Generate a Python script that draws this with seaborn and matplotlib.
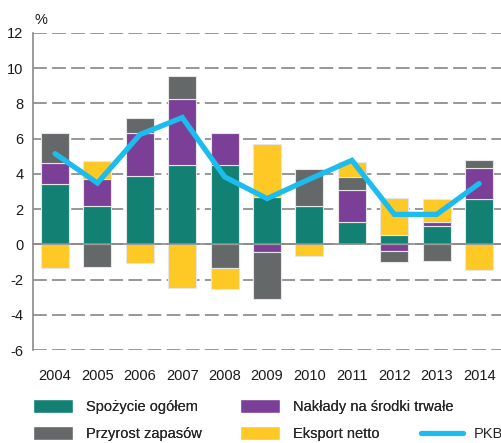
import numpy as np
import pandas as pd
import matplotlib
matplotlib.use("Agg")
import matplotlib.pyplot as plt
import seaborn as sns
from matplotlib.patches import Patch
from matplotlib.lines import Line2D

years = ["2004", "2005", "2006", "2007", "2008", "2009", "2010", "2011", "2012", "2013", "2014"]
spozycie = [3.45, 2.16, 3.88, 4.49, 4.53, 2.69, 2.18, 1.29, 0.51, 1.04, 2.60]
naklady = [1.19, 1.53, 2.47, 3.79, 1.82, -0.44, 0.0, 1.81, -0.36, 0.21, 1.74]
przyrost = [1.71, -1.31, 0.85, 1.28, -1.35, -2.69, 2.08, 0.73, -0.62, -0.95, 0.43]
eksport = [-1.35, 1.04, -1.06, -2.48, -1.21, 2.99, -0.66, 0.87, 2.14, 1.34, -1.44]
pkb = [5.15, 3.48, 6.23, 7.20, 3.83, 2.60, 3.70, 4.77, 1.70, 1.70, 3.45]

series_names = ["Spożycie ogółem", "Nakłady na środki trwałe", "Przyrost zapasów", "Eksport netto"]
series_vals = [spozycie, naklady, przyrost, eksport]
colors = ["#138074", "#7c3f97", "#646868", "#fec925"]
line_color = "#1cbdee"
y_ticks = [-6, -4, -2, 0, 2, 4, 6, 8, 10, 12]

sns.set_style("white")
plt.rcParams["font.family"] = ["Liberation Sans", "DejaVu Sans"]

fig = plt.figure(figsize=(5.02, 4.43), dpi=100)
ax = fig.add_axes([33 / 502, 1 - 350 / 443, 469 / 502, 317 / 443])

pos_bottom = np.zeros(len(years))
neg_bottom = np.zeros(len(years))
for name, vals, col in zip(series_names, series_vals, colors):
    v = np.array(vals, dtype=float)
    bottom = np.where(v >= 0, pos_bottom, neg_bottom)
    df = pd.DataFrame({"rok": years, "v": v})
    sns.barplot(data=df, x="rok", y="v", order=years, color=col, bottom=bottom,
                width=0.66, edgecolor="#e6e6e6", linewidth=0.8, saturation=1,
                errorbar=None, ax=ax, zorder=3)
    pos_bottom = pos_bottom + np.where(v >= 0, v, 0)
    neg_bottom = neg_bottom + np.where(v < 0, v, 0)

sns.lineplot(x=np.arange(len(years)), y=pkb, color=line_color, linewidth=3.8,
             ax=ax, zorder=5, solid_capstyle="round", solid_joinstyle="miter")

ax.set_xlim(-0.52, 10.54)
ax.set_ylim(-6, 12)
ax.set_yticks(y_ticks)
ax.set_yticklabels([str(t) for t in y_ticks], fontsize=10.5, color="#1a1a1a")
ax.yaxis.grid(True, linestyle=(0, (9, 3.5)), color="#7a7a7a", linewidth=1.1, zorder=0)
ax.set_axisbelow(True)
ax.tick_params(axis="y", length=3, color="#7a7a7a", pad=4)
ax.set_xlabel("")
ax.set_ylabel("")

for s in ["top", "right"]:
    ax.spines[s].set_visible(False)
ax.spines["left"].set_color("#8a8a8a")
ax.spines["left"].set_linewidth(1.2)
ax.spines["bottom"].set_position(("data", 0))
ax.spines["bottom"].set_color("#8a8a8a")
ax.spines["bottom"].set_linewidth(1.2)
ax.spines["bottom"].set_zorder(4)

ax.set_xticks(np.arange(len(years)) + 0.5, minor=False)
ax.set_xticklabels([])
ax.tick_params(axis="x", length=6, color="#8a8a8a", width=1.2, direction="out")

sec = ax.secondary_xaxis("bottom")
sec.set_xticks(np.arange(len(years)))
sec.set_xticklabels(years, fontsize=10.5, color="#1a1a1a")
sec.tick_params(length=0, pad=14)
sec.spines["bottom"].set_visible(False)

fig.text(35 / 502, 1 - 20 / 443, "%", fontsize=10.5, color="#1a1a1a", va="center", ha="left")

handles = [Patch(facecolor=colors[0]), Patch(facecolor=colors[2]),
           Patch(facecolor=colors[1]), Patch(facecolor=colors[3])]
labels = [series_names[0], series_names[2], series_names[1], series_names[3]]
leg = fig.legend(handles, labels, ncol=2, loc="center left",
                 bbox_to_anchor=(33 / 502, 1 - 420 / 443), frameon=False, fontsize=10.5,
                 handlelength=2.75, handleheight=1.1, handletextpad=0.85,
                 columnspacing=2.65, labelspacing=0.8, borderaxespad=0.0, borderpad=0.0)
fig.add_artist(leg)
leg2 = fig.legend([Line2D([0], [0], color=line_color, linewidth=3.8, solid_capstyle="round")],
                  ["PKB"], loc="center left", bbox_to_anchor=(421 / 502, 1 - 434 / 443),
                  frameon=False, fontsize=10.5, handlelength=2.9, handletextpad=0.7,
                  borderaxespad=0.0, borderpad=0.0)

fig.savefig("out.png", dpi=100)
